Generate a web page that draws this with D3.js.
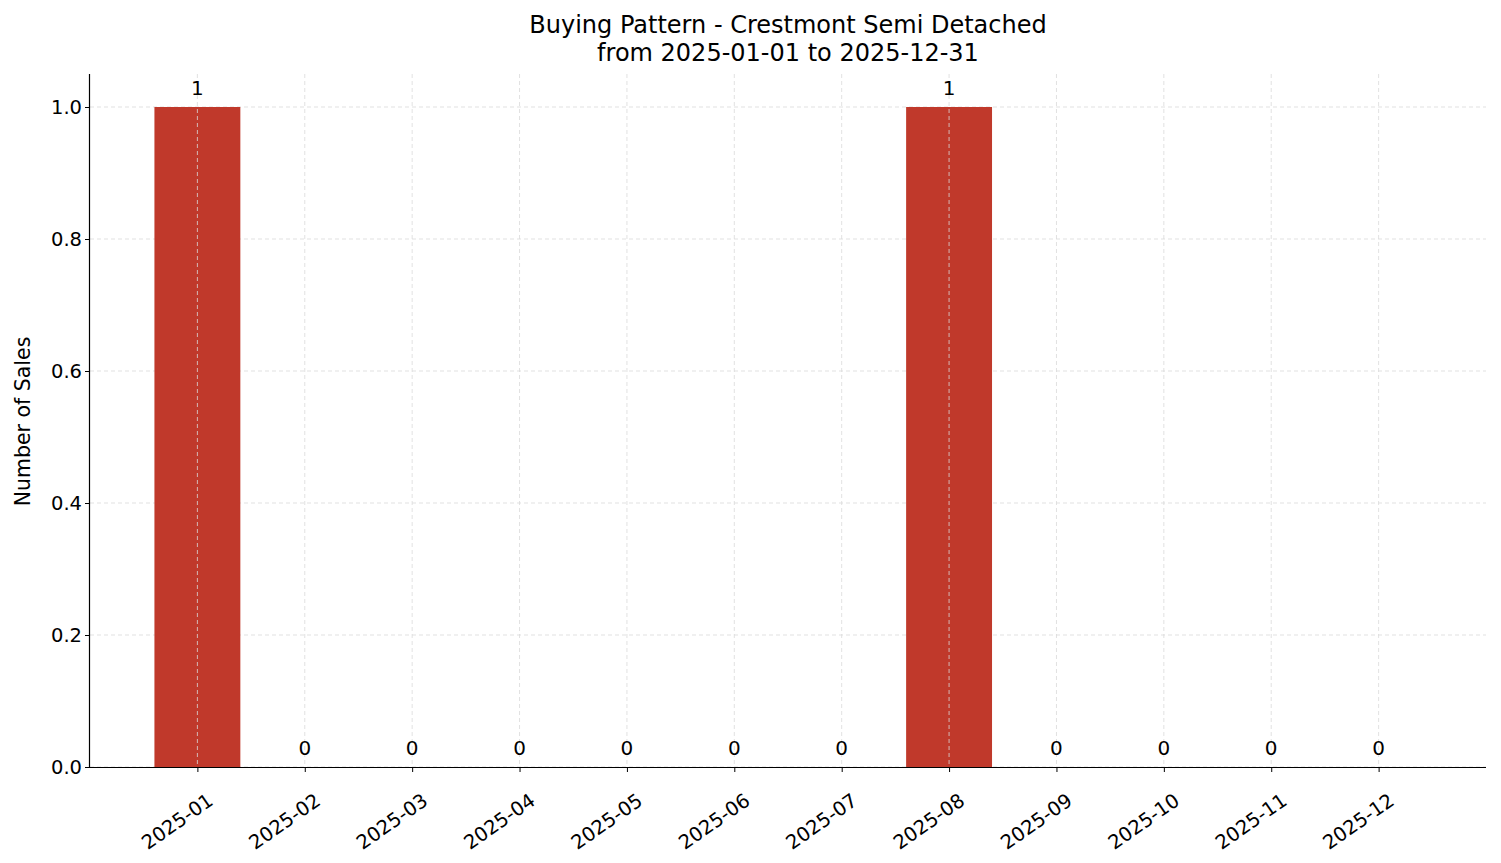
<!DOCTYPE html>
<html><head><meta charset="utf-8">
<script src="https://cdn.jsdelivr.net/npm/d3@7"></script>
<style>body{margin:0;background:#fff}text{font-family:"DejaVu Sans",sans-serif}</style>
</head><body><svg id="chart" width="1501" height="863"></svg>
<script>
const months = ["2025-01","2025-02","2025-03","2025-04","2025-05","2025-06","2025-07","2025-08","2025-09","2025-10","2025-11","2025-12"];
const sales = [1,0,0,0,0,0,0,1,0,0,0,0];
const yTicks = [0,0.2,0.4,0.6,0.8,1.0];

const svg = d3.select("#chart");
const L = 90, R = 1486, T = 74, B = 767;
const x = d3.scaleLinear().domain([-1, 12]).range([L, R]);
const y = d3.scaleLinear().domain([0, 1.05]).range([B, T]);
const step = x(1) - x(0);

// grid
svg.append("g").selectAll("line").data(yTicks).join("line")
  .attr("x1", L).attr("x2", R).attr("y1", d => y(d)).attr("y2", d => y(d))
  .attr("stroke", "#d9d9d9").attr("stroke-dasharray", "4,3").attr("stroke-width", 0.8);

// bars
svg.append("g").selectAll("rect").data(sales).join("rect")
  .attr("x", (d, i) => x(i) - step * 0.4).attr("width", step * 0.8)
  .attr("y", d => y(d)).attr("height", d => B - y(d))
  .attr("fill", "#c0392b");

svg.append("g").selectAll("line").data(months).join("line")
  .attr("x1", (d, i) => x(i)).attr("x2", (d, i) => x(i)).attr("y1", T).attr("y2", B)
  .attr("stroke", "#d9d9d9").attr("stroke-dasharray", "4,3").attr("stroke-width", 0.8);

// value labels
svg.append("g").selectAll("text").data(sales).join("text")
  .attr("x", (d, i) => x(i)).attr("y", d => y(d) - 12)
  .attr("text-anchor", "middle").attr("font-size", 20).text(d => d);

// axes
const xAxis = d3.axisBottom(x).tickValues(d3.range(months.length)).tickFormat(i => months[i]).tickSizeOuter(0).tickSize(5);
const gx = svg.append("g").attr("transform", `translate(0,${B})`).call(xAxis);
gx.select(".domain").attr("d", `M${L},0.5H${R}`).attr("stroke-width", 1.2);
gx.selectAll("text").attr("font-size", 19.5).attr("fill", "#000")
  .attr("text-anchor", "end").attr("dx", 0).attr("dy", 0)
  .attr("transform", "translate(12,30) rotate(-35)");

const yAxis = d3.axisLeft(y).tickValues(yTicks).tickFormat(d3.format(".1f")).tickSize(5).tickSizeOuter(0);
const gy = svg.append("g").attr("transform", `translate(${L},0)`).call(yAxis);
gy.select(".domain").attr("d", `M-0.5,${B}V${T}`).attr("stroke-width", 1.2);
gy.selectAll("text").attr("font-size", 19.5).attr("fill", "#000");

svg.append("text").attr("transform", `translate(30,${(T + B) / 2 + 1}) rotate(-90)`)
  .attr("text-anchor", "middle").attr("font-size", 20.5).text("Number of Sales");

svg.append("text").attr("x", (L + R) / 2).attr("y", 33).attr("text-anchor", "middle")
  .attr("font-size", 24).text("Buying Pattern - Crestmont Semi Detached");
svg.append("text").attr("x", (L + R) / 2).attr("y", 61).attr("text-anchor", "middle")
  .attr("font-size", 24).text("from 2025-01-01 to 2025-12-31");
</script></body></html>
